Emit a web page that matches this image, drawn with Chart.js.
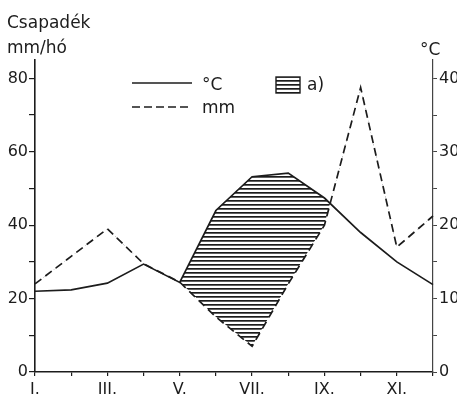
<!DOCTYPE html>
<html>
<head>
<meta charset="utf-8">
<script src="https://cdn.jsdelivr.net/npm/chart.js@4"></script>
<style>
  html, body { margin: 0; padding: 0; background: #fff; overflow: hidden; }
  #wrap { width: 475px; height: 402px; }
</style>
</head>
<body>
<div id="wrap"><canvas id="climate" width="475" height="402"></canvas></div>
<script>
// Data
const months = ['I.', 'II.', 'III.', 'IV.', 'V.', 'VI.', 'VII.', 'VIII.', 'IX.', 'X.', 'XI.', 'XII.'];
const precipMm = [24, 31.5, 39, 29.5, 24.5, 15, 7, 24, 40, 77.5, 34, 42.5];
const tempC = [11, 11.2, 12.1, 14.7, 12.2, 22, 26.6, 27.1, 23.7, 19, 15, 11.9];
const mmTicks = [0, 20, 40, 60, 80];
const cTicks = [0, 10, 20, 30, 40];

const ink = '#1c1c1c';
const font = 'DejaVu Sans';

// Horizontal hatch pattern for the dry period
const makeHatch = () => {
    const c = document.createElement('canvas');
    c.width = 4;
    c.height = 4;
    const g = c.getContext('2d');
    g.fillStyle = ink;
    g.fillRect(0, 0, 4, 1.7);
    return g.createPattern(c, 'repeat');
};
const hatch = makeHatch();

// Titles and the legend block
const annotations = {
    id: 'annotations',
    afterDraw(chart) {
        const ctx = chart.ctx;
        ctx.save();
        ctx.fillStyle = ink;
        ctx.strokeStyle = ink;
        ctx.textBaseline = 'alphabetic';
        ctx.font = `17px ${font}`;
        ctx.fillText('Csapadék', 7, 28);
        ctx.fillText('mm/hó', 7, 53);
        ctx.fillText('°C', 420, 55);

        // legend
        ctx.lineWidth = 1.6;
        ctx.beginPath();
        ctx.moveTo(132, 83);
        ctx.lineTo(192, 83);
        ctx.stroke();
        ctx.setLineDash([8, 4]);
        ctx.beginPath();
        ctx.moveTo(132, 107);
        ctx.lineTo(192, 107);
        ctx.stroke();
        ctx.setLineDash([]);
        ctx.fillText('°C', 202, 90);
        ctx.fillText('mm', 202, 113);

        ctx.fillStyle = hatch;
        ctx.fillRect(276, 77, 24, 16);
        ctx.lineWidth = 1.4;
        ctx.strokeRect(276, 77, 24, 16);
        ctx.fillStyle = ink;
        ctx.fillText('a)', 307, 90);
        ctx.restore();
    }
};

new Chart(document.getElementById('climate'), {
    type: 'line',
    data: {
        labels: months,
        datasets: [
            {
                label: 'mm',
                data: precipMm,
                yAxisID: 'y',
                borderColor: ink,
                borderWidth: 1.7,
                borderDash: [8, 5],
                pointRadius: 0,
                tension: 0,
                fill: false,
            },
            {
                label: '°C',
                data: tempC,
                yAxisID: 'y1',
                borderColor: ink,
                borderWidth: 1.7,
                pointRadius: 0,
                tension: 0,
                fill: { target: 0, above: hatch, below: 'rgba(0,0,0,0)' },
            }
        ]
    },
    options: {
        responsive: false,
        animation: false,
        layout: { padding: { top: 60, left: 0, right: 0, bottom: 0 } },
        plugins: {
            legend: { display: false },
            tooltip: { enabled: false },
        },
        scales: {
            x: {
                offset: false,
                border: { display: true, color: ink, width: 1.6 },
                grid: { display: true, drawOnChartArea: false, color: ink, tickLength: 4, lineWidth: 1.2 },
                ticks: {
                    color: ink,
                    font: { family: font, size: 16 },
                    maxRotation: 0,
                    autoSkip: false,
                    padding: 4,
                    callback: (v, i) => (i % 2 === 0 ? months[i] : ''),
                },
                afterFit: (s) => { s.height = 30; },
            },
            y: {
                position: 'left',
                min: 0,
                max: 85,
                border: { display: true, color: ink, width: 1.6 },
                grid: { display: true, drawOnChartArea: false, color: ink, tickLength: 6, lineWidth: 1.2 },
                ticks: {
                    stepSize: 10,
                    includeBounds: false,
                    color: ink,
                    font: { family: font, size: 16 },
                    padding: 1,
                    callback: (v) => (mmTicks.includes(v) ? v : ''),
                },
                afterFit: (s) => { s.width = 35; },
            },
            y1: {
                position: 'right',
                min: 0,
                max: 42.5,
                border: { display: true, color: '#444', width: 1.2 },
                grid: { display: true, drawOnChartArea: false, color: '#444', tickLength: 4, lineWidth: 1 },
                ticks: {
                    stepSize: 5,
                    includeBounds: false,
                    color: ink,
                    font: { family: font, size: 16 },
                    padding: 2,
                    callback: (v) => (cTicks.includes(v) ? v : ''),
                },
                afterFit: (s) => { s.width = 42; },
            }
        }
    },
    plugins: [annotations]
});
</script>
</body>
</html>
